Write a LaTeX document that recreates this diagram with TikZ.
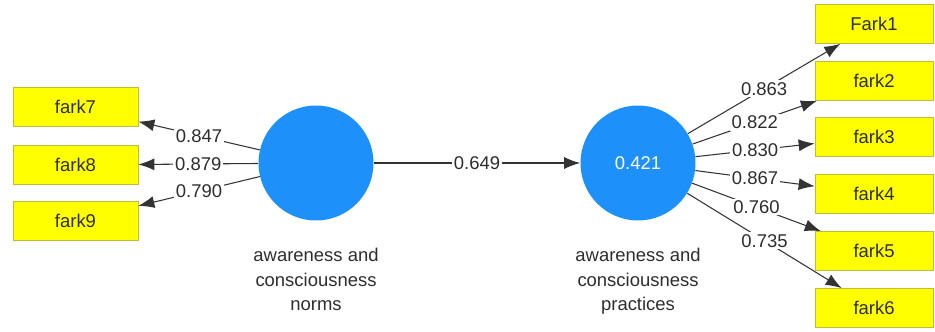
\documentclass[tikz,border=0pt]{standalone}
\usepackage{fontspec}
\setmainfont{Liberation Sans}
\usepackage{xcolor}
\usetikzlibrary{arrows.meta,positioning}

\definecolor{lvblue}{RGB}{30,144,250}
\definecolor{mvyellow}{RGB}{255,255,0}
\definecolor{mvborder}{RGB}{190,190,60}
\definecolor{txtgray}{RGB}{45,45,45}

\begin{document}
\begin{tikzpicture}[
    x=0.02cm, y=-0.02cm,
    every node/.style={font=\fontsize{10.5}{14}\selectfont, text=txtgray},
    indicator/.style={rectangle, draw=mvborder, fill=mvyellow, minimum width=2.5cm, minimum height=0.78cm, inner sep=0pt},
    latent/.style={circle, fill=lvblue, minimum size=2.3cm, inner sep=0pt},
    caption/.style={align=center},
    loading/.style={-{Latex[length=3.2mm,width=2.4mm]}, semithick, black!80},
    weight/.style={midway, fill=white, inner sep=1pt}
]

\useasboundingbox (0,0) rectangle (935,331);

% latent variables
\node[latent] (norms) at (316,163) {};
\node[latent] (practices) at (638,163) {\textcolor{white}{0.421}};

\node[caption, below=0.42cm of norms] (normscap) {awareness and\\consciousness\\norms};
\node[caption, below=0.42cm of practices] (practicescap) {awareness and\\consciousness\\practices};

% indicators of the norms
\node[indicator] (fark7) at (75.5,107) {fark7};
\node[indicator] (fark8) at (75.5,165) {fark8};
\node[indicator] (fark9) at (75.5,221) {fark9};

% indicators of the practices
\foreach \name/\txt/\ypos in {fark1/Fark1/24, fark2/fark2/81, fark3/fark3/137,
                              fark4/fark4/194, fark5/fark5/251, fark6/fark6/308}
    \node[indicator, minimum width=2.36cm] (\name) at (874,\ypos) {\txt};

% path coefficient
\draw[loading] (norms) -- (practices) node[weight] {0.649};

% outer loadings
\draw[loading] (norms) -- (fark7) node[weight] {0.847};
\draw[loading] (norms) -- (fark8) node[weight] {0.879};
\draw[loading] (norms) -- (fark9) node[weight] {0.790};

\draw[loading] (practices) -- (fark1) node[weight] {0.863};
\draw[loading] (practices) -- (fark2) node[weight] {0.822};
\draw[loading] (practices) -- (fark3) node[weight] {0.830};
\draw[loading] (practices) -- (fark4) node[weight] {0.867};
\draw[loading] (practices) -- (fark5) node[weight] {0.760};
\draw[loading] (practices) -- (fark6) node[weight] {0.735};

\end{tikzpicture}
\end{document}
